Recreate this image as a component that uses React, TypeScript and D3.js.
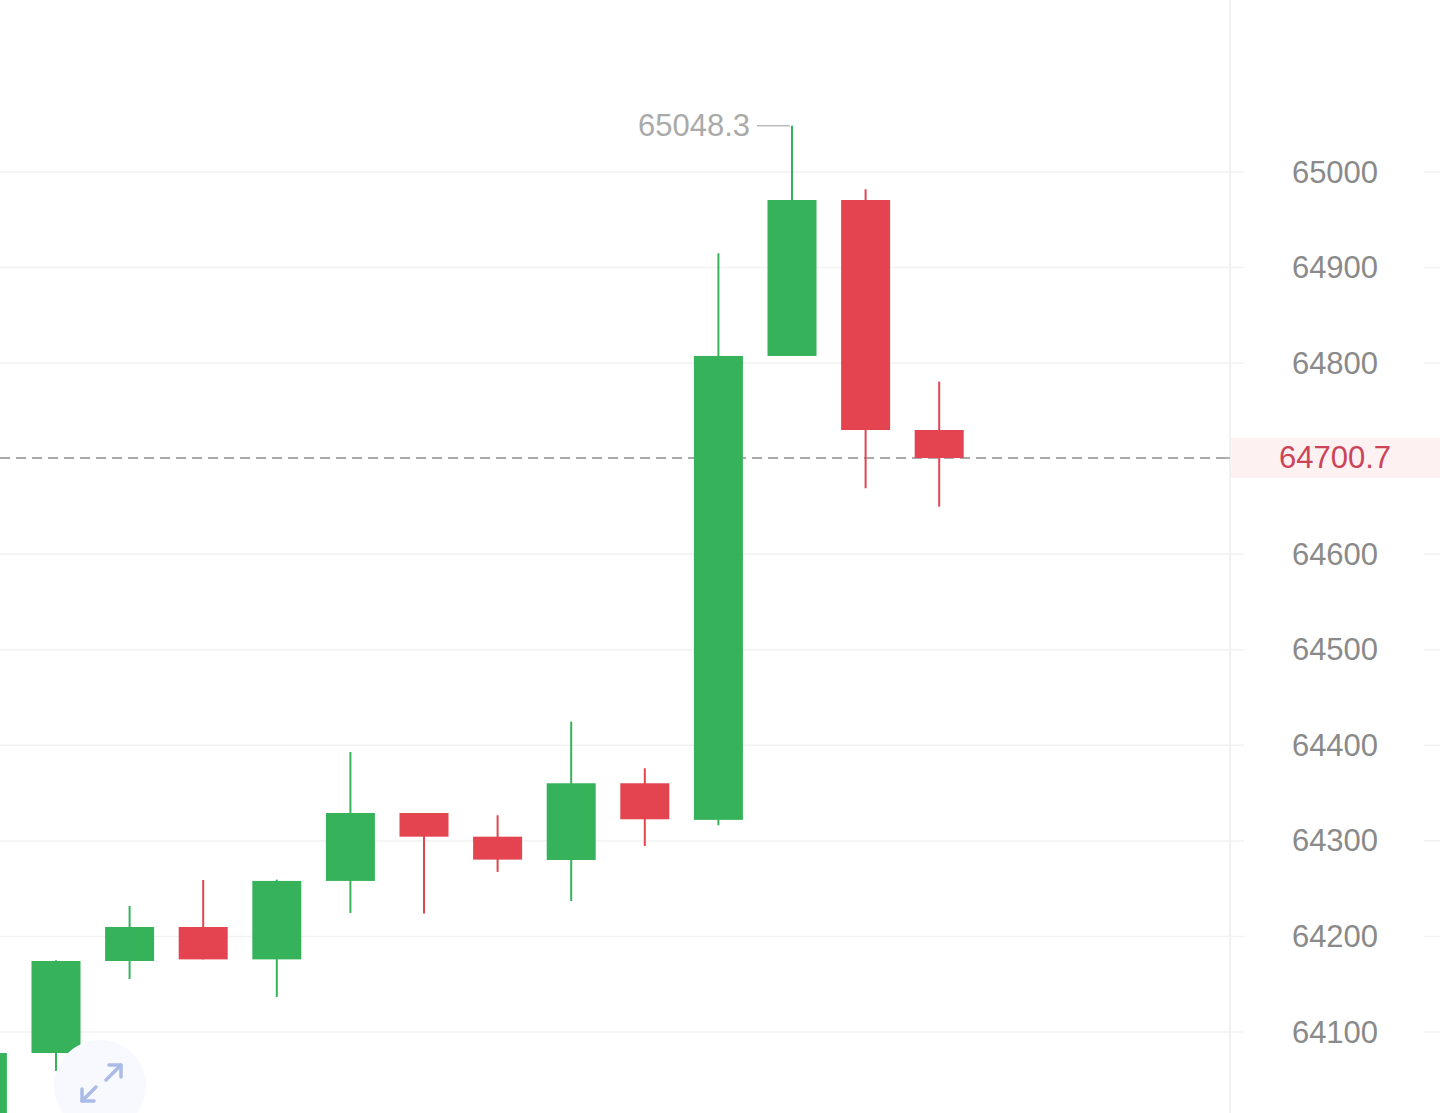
import React from "react";
import * as d3 from "d3";

const idx = [0, 1, 2, 3, 4, 5, 6, 7, 8, 9, 10, 11, 12, 13];
const opens = [64000, 64078, 64174.3, 64209.9, 64176, 64258.1, 64329.2, 64304.4, 64280, 64360.3, 64322, 64807.5, 64970.7, 64730];
const closes = [64078, 64174.3, 64209.9, 64176, 64258.1, 64329.2, 64304.4, 64280.4, 64360.3, 64322.6, 64807.5, 64970.7, 64730, 64700.7];
const highs = [64080, 64175, 64231.9, 64259.1, 64259.5, 64393, 64329.2, 64326.8, 64424.8, 64376, 64914.9, 65048.3, 64981.9, 64780.6];
const lows = [63990, 64059.2, 64155.5, 64176, 64136.7, 64224.6, 64224, 64267.5, 64237.1, 64294.7, 64316.3, 64807.5, 64669, 64649.8];
const yTicks = [65000, 64900, 64800, 64600, 64500, 64400, 64300, 64200, 64100];
const lastPrice = 64700.7;
const maxLabel = "65048.3";

const GREEN = "#36b25a";
const RED = "#e3444f";

export default function App() {
  const W = 1440, H = 1113;
  const y = d3.scaleLinear().domain([64100, 65000]).range([1032, 172]);
  const x = d3.scaleLinear().domain([0, 13]).range([-17.6, 939.2]);
  const bw = 49;
  const maxI = highs.indexOf(d3.max(highs) as number);
  return (
    <svg width={W} height={H} style={{ position: "absolute", left: 0, top: 0, background: "#fff" }}
      fontFamily="'Liberation Sans', Arial, sans-serif">
      <rect x={0} y={0} width={W} height={H} fill="#fff" />
      {yTicks.map((t) => (
        <g key={t}>
          <line x1={0} x2={1244} y1={y(t)} y2={y(t)} stroke="#f2f2f2" strokeWidth={1.5} />
          <line x1={1424} x2={1440} y1={y(t)} y2={y(t)} stroke="#f2f2f2" strokeWidth={1.5} />
          <text x={1335} y={y(t)} textAnchor="middle" dominantBaseline="central" fontSize={31} fill="#8a8a8a">
            {t}
          </text>
        </g>
      ))}
      <line x1={1230} x2={1230} y1={0} y2={H} stroke="#f1f1f1" strokeWidth={2} />
      {/* last price */}
      <rect x={1231} y={y(lastPrice) - 20} width={209} height={40} fill="#fdf1f1" />
      <line x1={1224} x2={1230} y1={y(lastPrice)} y2={y(lastPrice)} stroke="#999" strokeWidth={1.5} />
      <line x1={0} x2={1230} y1={y(lastPrice)} y2={y(lastPrice)} stroke="#aaa" strokeWidth={2} strokeDasharray="10,6" />
      <text x={1335} y={y(lastPrice)} textAnchor="middle" dominantBaseline="central" fontSize={31} fill="#cc4458">
        {lastPrice.toFixed(1)}
      </text>
      {idx.map((i) => {
        const up = closes[i] >= opens[i];
        const c = up ? GREEN : RED;
        const top = y(Math.max(opens[i], closes[i]));
        const bot = y(Math.min(opens[i], closes[i]));
        return (
          <g key={i}>
            <line x1={x(i)} x2={x(i)} y1={y(highs[i])} y2={y(lows[i])} stroke={c} strokeWidth={2} />
            <rect x={x(i) - bw / 2} y={top} width={bw} height={Math.max(1, bot - top)} fill={c} />
          </g>
        );
      })}
      {/* max label */}
      <line x1={x(maxI) - 35} x2={x(maxI) - 2} y1={y(highs[maxI])} y2={y(highs[maxI])} stroke="#bbb" strokeWidth={1.5} />
      <text x={x(maxI) - 42} y={y(highs[maxI])} textAnchor="end" dominantBaseline="central" fontSize={31} fill="#aaa">
        {maxLabel}
      </text>
      {/* expand icon */}
      <circle cx={100} cy={1086} r={46} fill="#f8f9fe" />
      <g stroke="#aabbe6" strokeWidth={3.5} fill="none" strokeLinecap="round" strokeLinejoin="round">
        <path d="M106,1080 L121,1065" />
        <path d="M109,1065 L121,1065 L121,1077" />
        <path d="M96,1087 L82,1101" />
        <path d="M82,1089 L82,1101 L94,1101" />
      </g>
    </svg>
  );
}
